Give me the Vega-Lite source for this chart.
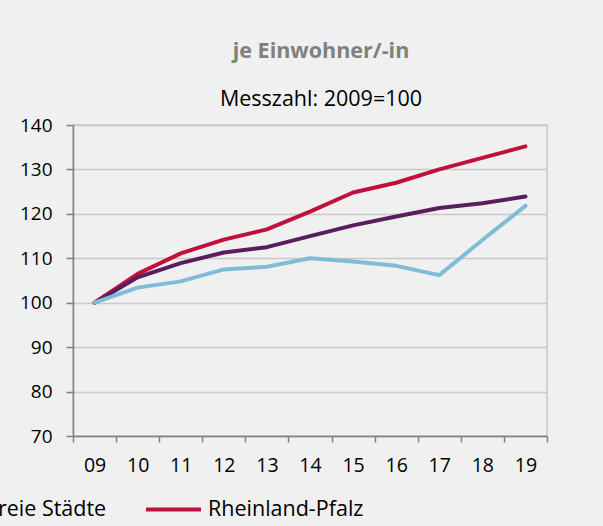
{
  "$schema": "https://vega.github.io/schema/vega-lite/v6.json",
  "width": 474,
  "height": 311,
  "autosize": "none",
  "padding": {"left": 73, "top": 125, "right": 56, "bottom": 90},
  "background": "#eff0ef",
  "title": {
    "text": "je Einwohner/-in",
    "subtitle": "Messzahl: 2009=100",
    "anchor": "middle",
    "dx": 11,
    "offset": 6,
    "font": "Open Sans",
    "fontSize": 21.5,
    "fontWeight": "bold",
    "color": "#808080",
    "subtitleFont": "Open Sans",
    "subtitleFontSize": 21.5,
    "subtitleColor": "#000000",
    "subtitlePadding": 26
  },
  "config": {
    "view": {"stroke": "#c8c8c8", "strokeWidth": 1.5},
    "font": "Open Sans"
  },
  "data": {
    "values": [
      {"jahr": "09", "gebiet": "Rheinland-Pfalz", "wert": 100},
      {"jahr": "10", "gebiet": "Rheinland-Pfalz", "wert": 106.5},
      {"jahr": "11", "gebiet": "Rheinland-Pfalz", "wert": 111.1},
      {"jahr": "12", "gebiet": "Rheinland-Pfalz", "wert": 114.2},
      {"jahr": "13", "gebiet": "Rheinland-Pfalz", "wert": 116.5},
      {"jahr": "14", "gebiet": "Rheinland-Pfalz", "wert": 120.5},
      {"jahr": "15", "gebiet": "Rheinland-Pfalz", "wert": 124.8},
      {"jahr": "16", "gebiet": "Rheinland-Pfalz", "wert": 127.0},
      {"jahr": "17", "gebiet": "Rheinland-Pfalz", "wert": 130.0},
      {"jahr": "18", "gebiet": "Rheinland-Pfalz", "wert": 132.6},
      {"jahr": "19", "gebiet": "Rheinland-Pfalz", "wert": 135.2},
      {"jahr": "09", "gebiet": "Landkreise", "wert": 100},
      {"jahr": "10", "gebiet": "Landkreise", "wert": 105.7},
      {"jahr": "11", "gebiet": "Landkreise", "wert": 108.9},
      {"jahr": "12", "gebiet": "Landkreise", "wert": 111.3},
      {"jahr": "13", "gebiet": "Landkreise", "wert": 112.5},
      {"jahr": "14", "gebiet": "Landkreise", "wert": 115.0},
      {"jahr": "15", "gebiet": "Landkreise", "wert": 117.4},
      {"jahr": "16", "gebiet": "Landkreise", "wert": 119.4},
      {"jahr": "17", "gebiet": "Landkreise", "wert": 121.3},
      {"jahr": "18", "gebiet": "Landkreise", "wert": 122.4},
      {"jahr": "19", "gebiet": "Landkreise", "wert": 123.9},
      {"jahr": "09", "gebiet": "Kreisfreie Städte", "wert": 100},
      {"jahr": "10", "gebiet": "Kreisfreie Städte", "wert": 103.4},
      {"jahr": "11", "gebiet": "Kreisfreie Städte", "wert": 104.8},
      {"jahr": "12", "gebiet": "Kreisfreie Städte", "wert": 107.5},
      {"jahr": "13", "gebiet": "Kreisfreie Städte", "wert": 108.1},
      {"jahr": "14", "gebiet": "Kreisfreie Städte", "wert": 110.0},
      {"jahr": "15", "gebiet": "Kreisfreie Städte", "wert": 109.3},
      {"jahr": "16", "gebiet": "Kreisfreie Städte", "wert": 108.3},
      {"jahr": "17", "gebiet": "Kreisfreie Städte", "wert": 106.2},
      {"jahr": "18", "gebiet": "Kreisfreie Städte", "wert": 114.1},
      {"jahr": "19", "gebiet": "Kreisfreie Städte", "wert": 121.8}
    ]
  },
  "mark": {"type": "line", "strokeWidth": 4, "strokeCap": "round", "strokeJoin": "round"},
  "encoding": {
    "x": {
      "field": "jahr",
      "type": "ordinal",
      "scale": {"type": "band", "paddingInner": 0, "paddingOuter": 0},
      "axis": {
        "title": null,
        "labelAngle": 0,
        "tickBand": "extent",
        "domainColor": "#808080",
        "domainWidth": 1.5,
        "tickColor": "#808080",
        "tickWidth": 1.5,
        "tickSize": 6,
        "labelPadding": 14,
        "labelFontSize": 19.5,
        "labelColor": "#000000",
        "labelFont": "Open Sans",
        "grid": false
      }
    },
    "y": {
      "field": "wert",
      "type": "quantitative",
      "scale": {"domain": [70, 140], "nice": false, "zero": false},
      "axis": {
        "title": null,
        "values": [70, 80, 90, 100, 110, 120, 130, 140],
        "domainColor": "#808080",
        "domainWidth": 1.5,
        "tickColor": "#808080",
        "tickWidth": 1.5,
        "tickSize": 7,
        "labelPadding": 14,
        "labelFontSize": 19,
        "labelColor": "#000000",
        "labelFont": "Open Sans",
        "grid": true,
        "gridColor": "#c8c8c8",
        "gridWidth": 1.5
      }
    },
    "color": {
      "field": "gebiet",
      "type": "nominal",
      "scale": {
        "domain": ["Landkreise", "Kreisfreie Städte", "Rheinland-Pfalz"],
        "range": ["#5a1e5e", "#80bcd8", "#c2103e"]
      },
      "legend": {
        "title": null,
        "orient": "none",
        "direction": "horizontal",
        "legendX": -407,
        "legendY": 355,
        "symbolType": "stroke",
        "symbolSize": 3025,
        "symbolStrokeWidth": 4,
        "labelFontSize": 21.5,
        "labelFont": "Open Sans",
        "labelColor": "#000000",
        "labelOffset": 5,
        "columnPadding": 31,
        "labelLimit": 400
      }
    }
  }
}
